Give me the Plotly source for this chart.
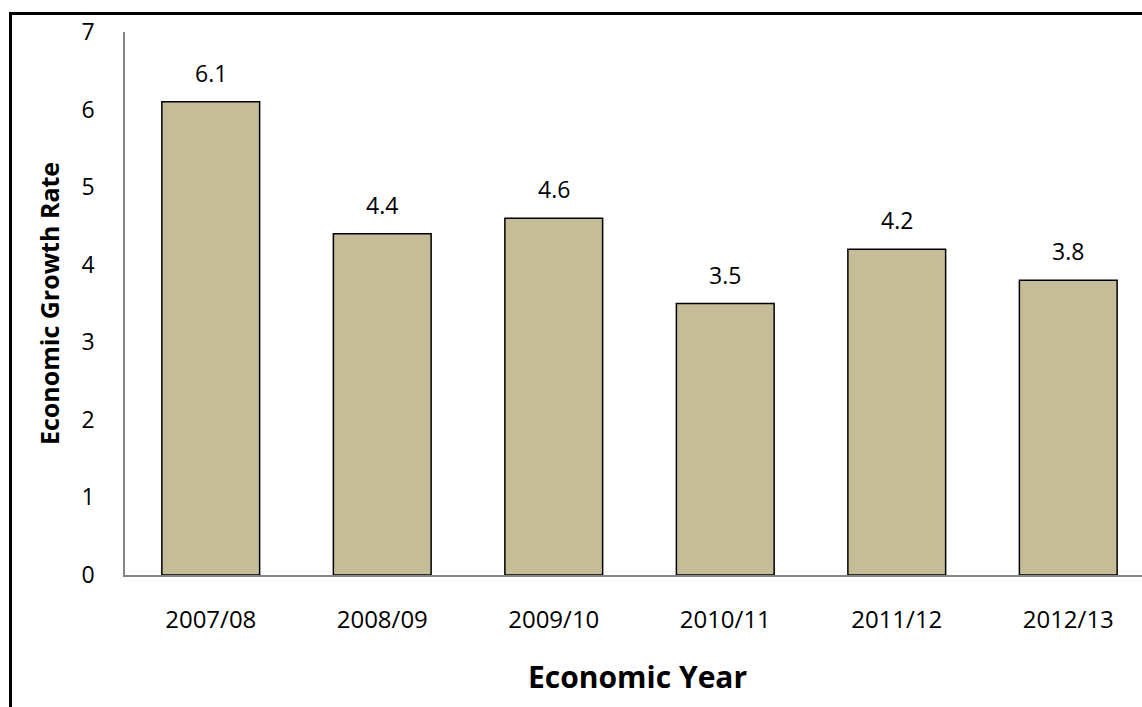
import plotly.graph_objects as go

categories = ["2007/08", "2008/09", "2009/10", "2010/11", "2011/12", "2012/13"]
growth = [6.1, 4.4, 4.6, 3.5, 4.2, 3.8]
y_ticks = [0, 1, 2, 3, 4, 5, 6, 7]

W, H = 1142, 707
L, R, T, B = 125, 0, 32, 132
PW = W - L - R
PH = H - T - B
FONT = "'Open Sans', Calibri, Arial, sans-serif"

def px_x(p):
    return (p - L) / PW

def px_y(p):
    return (H - B - p) / PH

fig = go.Figure()
fig.add_trace(go.Bar(
    x=categories, y=growth,
    marker=dict(color="#C4BD97", line=dict(color="#000000", width=1.5)),
    width=0.57,
    hoverinfo="skip",
))

for c, v in zip(categories, growth):
    fig.add_annotation(x=c, y=v, text=f"{v:.1f}", showarrow=False,
                       yanchor="bottom", yshift=11,
                       font=dict(family=FONT, size=23, color="#000000"))

fig.add_annotation(xref="paper", yref="paper", x=px_x(637), y=px_y(676),
                   text="<b>Economic Year</b>", showarrow=False,
                   xanchor="center", yanchor="middle",
                   font=dict(family=FONT, size=30, color="#000000"))
fig.add_annotation(xref="paper", yref="paper", x=px_x(49), y=px_y(304),
                   text="<b>Economic Growth Rate</b>", showarrow=False,
                   textangle=-90, xanchor="center", yanchor="middle",
                   font=dict(family=FONT, size=25, color="#000000"))

# outer frame (top and left edges visible)
fig.add_shape(type="line", xref="paper", yref="paper",
              x0=px_x(10), x1=px_x(W + 5), y0=px_y(13.5), y1=px_y(13.5),
              line=dict(color="#000000", width=3))
fig.add_shape(type="line", xref="paper", yref="paper",
              x0=px_x(10.5), x1=px_x(10.5), y0=px_y(12), y1=px_y(H + 5),
              line=dict(color="#000000", width=3))

fig.update_layout(
    width=W, height=H,
    margin=dict(l=L, r=R, t=T, b=B),
    paper_bgcolor="#FFFFFF", plot_bgcolor="#FFFFFF",
    showlegend=False,
    font=dict(family=FONT, size=24, color="#000000"),
    xaxis=dict(
        type="category", range=[-0.5, 5.43],
        showline=True, linecolor="#868686", linewidth=1.5,
        showgrid=False, ticks="", ticklabelstandoff=22,
        tickfont=dict(family=FONT, size=24, color="#000000"),
        zeroline=False,
    ),
    yaxis=dict(
        range=[0, 7], tickvals=y_ticks,
        showline=True, linecolor="#868686", linewidth=1.5,
        showgrid=False, ticks="", ticklabelstandoff=24,
        tickfont=dict(family=FONT, size=23, color="#000000"),
        zeroline=False,
    ),
)

fig.write_html("out.html")
